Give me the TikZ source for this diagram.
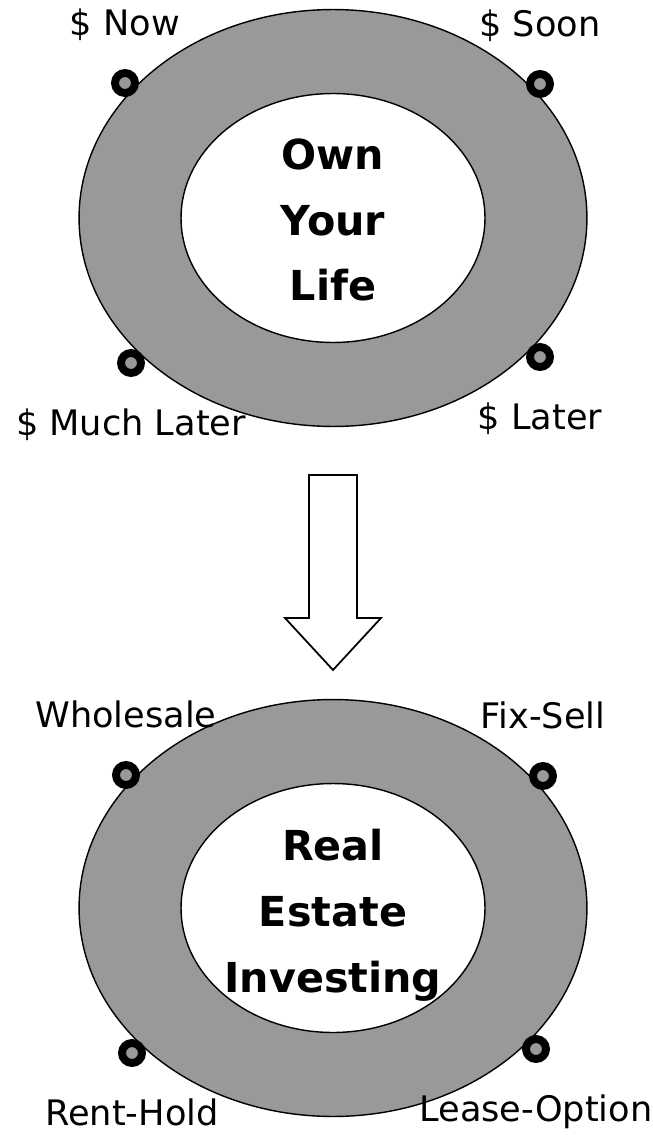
\documentclass[tikz,border=0pt]{standalone}
\usepackage{fontspec}
\setmainfont{DejaVu Sans}
\usepackage{xcolor}
\usepackage{tikz}
\usetikzlibrary{positioning,shapes.geometric}
\definecolor{ringgray}{gray}{0.6}

\begin{document}
\begin{tikzpicture}[
  x=0.02cm, y=-0.02cm,
  ring/.style={draw, ellipse, fill=ringgray, line width=0.8pt, minimum width=10.16cm, minimum height=8.34cm, inner sep=0pt},
  hole/.style={draw, ellipse, fill=white, line width=0.8pt, minimum width=6.08cm, minimum height=4.98cm, inner sep=0pt},
  core/.style={align=center, font=\bfseries\fontsize{23.5}{37.5}\selectfont},
  pin/.style={draw, circle, fill=ringgray, line width=4.5pt, minimum size=0.4cm, inner sep=0pt},
  lbl/.style={inner sep=0pt, outer sep=0pt, text height=15pt, text depth=5pt, font=\fontsize{20}{24}\selectfont},
  bigarrow/.style={draw, fill=white, line width=1pt}
]
\useasboundingbox (0,0) rectangle (652,1135);

% upper ring
\node[ring] (life) at (333,218) {};
\node[hole] (lifehole) at (life.center) {};
\node[core] (own) at (333,220) {Own\\Your\\Life};

\node[pin] (now) at (125,83) {};
\node[pin] (soon) at (540,84) {};
\node[pin] (muchlater) at (131,363) {};
\node[pin] (later) at (540,357) {};

\node[lbl, above=0.5cm of now] (nowtxt) {\$ Now};
\node[lbl, above=0.5cm of soon] (soontxt) {\$ Soon};
\node[lbl, below=0.65cm of muchlater] (muchlatertxt) {\$ Much Later};
\node[lbl, below=0.65cm of later] (latertxt) {\$ Later};

% block arrow
\draw[bigarrow] (309,475) -- (357,475) -- (357,618) -- (381,618) -- (333,670) -- (285,618) -- (309,618) -- cycle;

% lower ring
\node[ring] (rei) at (333,908) {};
\node[hole] (reihole) at (rei.center) {};
\node[core] (invest) at (333,915) {Real\\Estate\\Investing};

\node[pin] (wholesale) at (126,775) {};
\node[pin] (fixsell) at (543,776) {};
\node[pin] (renthold) at (132,1053) {};
\node[pin] (leaseoption) at (536,1049) {};

\node[lbl, above=0.5cm of wholesale] (wholesaletxt) {Wholesale};
\node[lbl, above=0.5cm of fixsell] (fixselltxt) {Fix-Sell};
\node[lbl, below=0.65cm of renthold] (rentholdtxt) {Rent-Hold};
\node[lbl, below=0.65cm of leaseoption] (leaseoptiontxt) {Lease-Option};
\end{tikzpicture}
\end{document}
